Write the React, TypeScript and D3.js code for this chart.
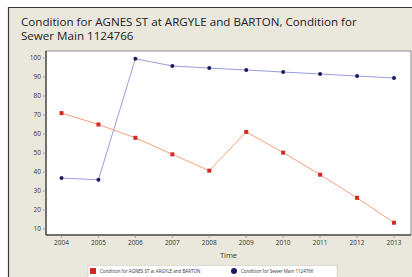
import React from "react";
import * as d3 from "d3";

const years = [2004, 2005, 2006, 2007, 2008, 2009, 2010, 2011, 2012, 2013];
const agnesValues = [71, 65, 58, 49.3, 40.7, 61.1, 50.2, 38.6, 26.4, 13.3];
const sewerValues = [36.8, 35.9, 99.6, 95.8, 94.7, 93.7, 92.6, 91.6, 90.5, 89.5];
const yTicks = [10, 20, 30, 40, 50, 60, 70, 80, 90, 100];
const titleLines = ["Condition for AGNES ST at ARGYLE and BARTON, Condition for", "Sewer Main 1124766"];
const xAxisLabel = "Time";
const legendLabels = ["Condition for AGNES ST at ARGYLE and BARTON", "Condition for Sewer Main 1124766"];

const W = 412;
const H = 277;
const FONT = "'Open Sans', 'Noto Sans', sans-serif";

export default function App() {
  const plot = { left: 46, top: 51, right: 411, bottom: 235 };
  const x = d3.scaleLinear().domain([2004, 2013]).range([61.5, 394]);
  const y = d3.scaleLinear().domain([10, 100]).range([229, 58]);
  const line = d3
    .line<[number, number]>()
    .x((d) => x(d[0]))
    .y((d) => y(d[1]));
  const agnes: [number, number][] = years.map((yr, i) => [yr, agnesValues[i]]);
  const sewer: [number, number][] = years.map((yr, i) => [yr, sewerValues[i]]);

  return (
    <div style={{ position: "absolute", left: 0, top: 0 }}>
      <svg width={W} height={H} style={{ display: "block" }}>
        <rect x={0} y={0} width={W} height={H} fill="#ffffff" />
        <rect x={8} y={7} width={W - 8} height={H - 7} fill="#eae8dc" />
        <line x1={8} y1={7.5} x2={W} y2={7.5} stroke="#3a3a3a" strokeWidth={1.2} />
        <line x1={8.5} y1={7} x2={8.5} y2={H} stroke="#3a3a3a" strokeWidth={1.2} />
        {titleLines.map((t, i) => (
          <text key={i} x={21} y={26 + i * 14} fontFamily={FONT} fontSize={11.6} fill="#222">
            {t}
          </text>
        ))}
        <rect
          x={plot.left}
          y={plot.top}
          width={plot.right - plot.left}
          height={plot.bottom - plot.top}
          fill="#ffffff"
          stroke="#8a8a8a"
          strokeWidth={1}
        />
        <line x1={plot.left} y1={plot.top} x2={plot.left} y2={plot.bottom} stroke="#555" strokeWidth={1.5} />
        <line x1={plot.left} y1={plot.bottom} x2={plot.right} y2={plot.bottom} stroke="#555" strokeWidth={1.5} />
        {yTicks.map((t) => (
          <g key={t}>
            <line x1={plot.left - 3} x2={plot.left} y1={y(t)} y2={y(t)} stroke="#888" strokeWidth={0.8} />
            <text x={plot.left - 5} y={y(t)} dy="0.35em" textAnchor="end" fontFamily={FONT} fontSize={6.5} fill="#333">
              {t}
            </text>
          </g>
        ))}
        {years.map((yr) => (
          <g key={yr}>
            <line x1={x(yr)} x2={x(yr)} y1={plot.bottom} y2={plot.bottom + 3} stroke="#888" strokeWidth={0.8} />
            <text x={x(yr)} y={245} textAnchor="middle" fontFamily={FONT} fontSize={6.5} fill="#333">
              {yr}
            </text>
          </g>
        ))}
        <text x={(plot.left + plot.right) / 2} y={258} textAnchor="middle" fontFamily={FONT} fontSize={7.5} fill="#333">
          {xAxisLabel}
        </text>
        <path d={line(agnes) || ""} fill="none" stroke="#f5a07e" strokeWidth={1} />
        <path d={line(sewer) || ""} fill="none" stroke="#9c9cdc" strokeWidth={1} />
        {agnes.map((d, i) => (
          <rect key={i} x={x(d[0]) - 2} y={y(d[1]) - 2} width={4} height={4} fill="#d42a22" />
        ))}
        {sewer.map((d, i) => (
          <circle key={i} cx={x(d[0])} cy={y(d[1])} r={2} fill="#1c1c5c" />
        ))}
        <rect x={88} y={265.5} width={249} height={13} fill="#ffffff" stroke="#c8c8c8" strokeWidth={0.6} />
        <rect x={90} y={268} width={6} height={6} fill="#d42a22" />
        <text x={100} y={273} fontFamily={FONT} fontSize={4.5} fill="#333">
          {legendLabels[0]}
        </text>
        <circle cx={234} cy={271} r={3} fill="#1c1c5c" />
        <text x={241} y={273} fontFamily={FONT} fontSize={4.5} fill="#333">
          {legendLabels[1]}
        </text>
      </svg>
    </div>
  );
}
